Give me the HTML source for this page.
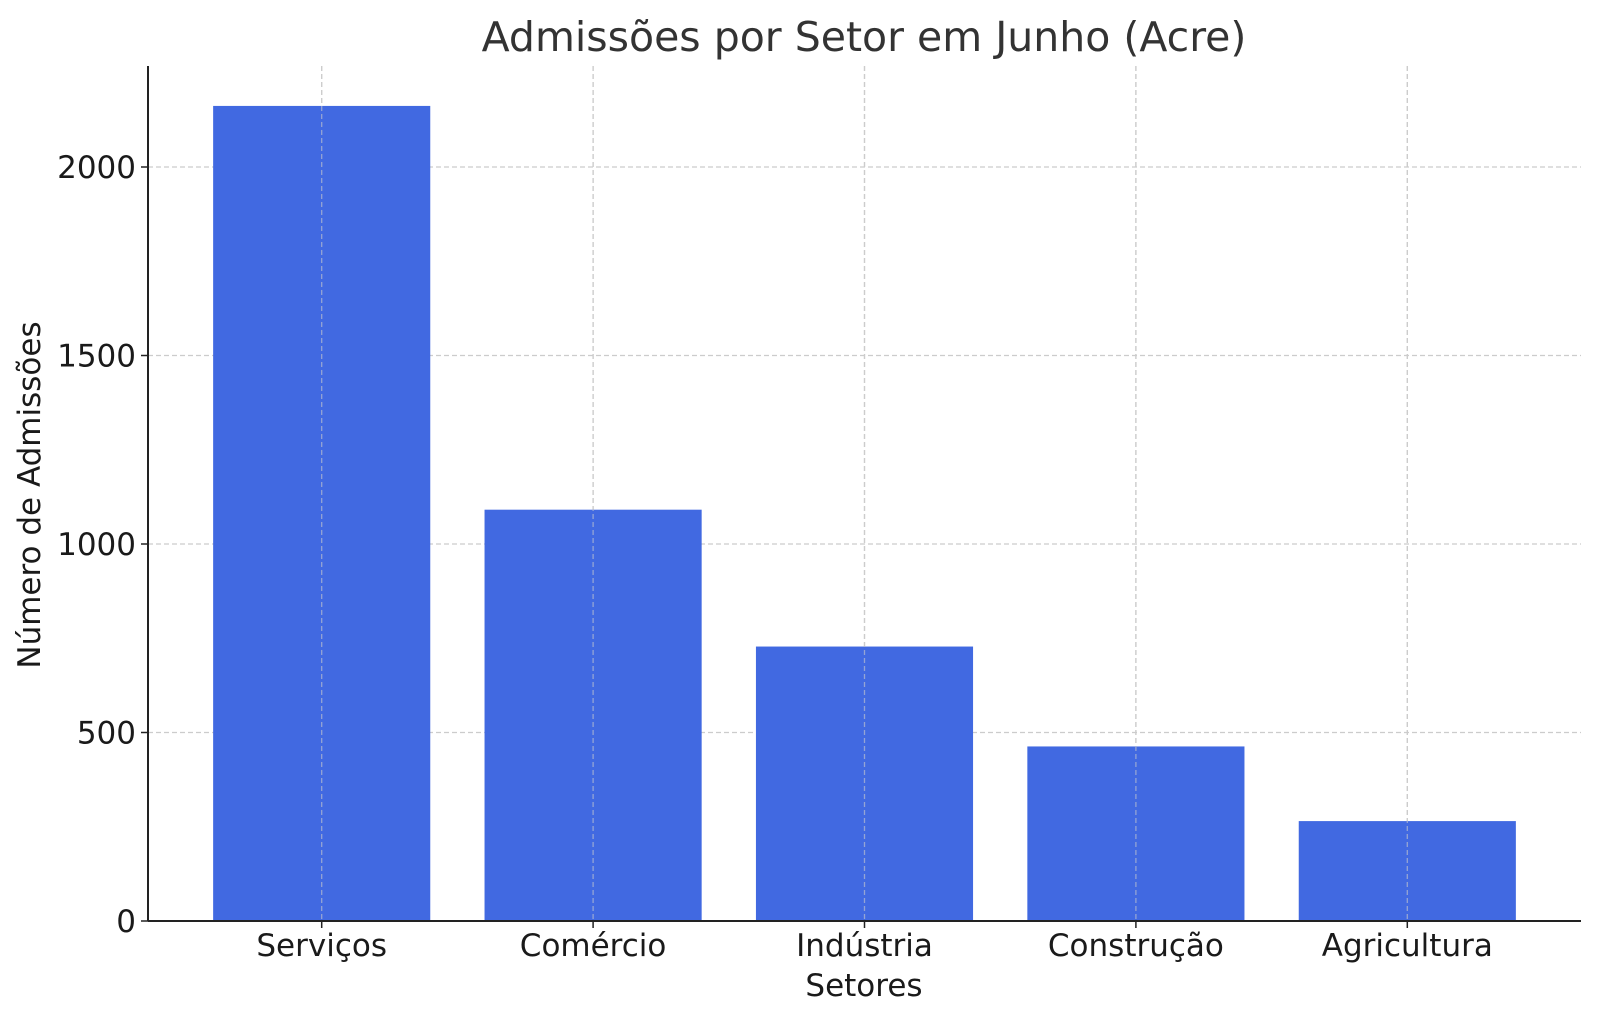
<!DOCTYPE html>
<html><head><meta charset="utf-8"><style>
html,body{margin:0;padding:0;background:#fff}
svg{display:block;font-family:"DejaVu Sans","Liberation Sans",sans-serif}
</style></head><body>
<svg id="chart" width="1599" height="1020" viewBox="0 0 1599 1020">
<text x="864" y="51" text-anchor="middle" font-size="41" fill="#333">Admissões por Setor em Junho (Acre)</text>
<g id="grid"></g><g id="bars"></g><g id="axes"></g>
<text x="864" y="996" text-anchor="middle" font-size="31" fill="#1a1a1a">Setores</text>
<text transform="translate(40,495) rotate(-90)" text-anchor="middle" font-size="31" fill="#1a1a1a">Número de Admissões</text>
</svg>
<script>
const categories=["Serviços","Comércio","Indústria","Construção","Agricultura"];
const values=[2162,1091,728,463,265];
const yTicks=[0,500,1000,1500,2000];
const NS="http://www.w3.org/2000/svg";
const L=148,R=1581,T=66,B=921;
const yScale=v=>B-v*(B-167)/2000;
const step=(R-L)/5.28;
const xScale=i=>L+(i+0.64)*step;
const bw=0.8*step;
function mk(tag,attrs,parent){const e=document.createElementNS(NS,tag);for(const k in attrs)e.setAttribute(k,attrs[k]);parent.appendChild(e);return e;}
const grid=document.getElementById('grid'),bars=document.getElementById('bars'),axes=document.getElementById('axes');
yTicks.forEach(t=>{
  const y=yScale(t);
  if(t>0){const g=mk('line',{x1:L,x2:R,y1:y,y2:y,stroke:'#ccc','stroke-width':1.3,'stroke-dasharray':'5,3'},grid);
  
  }
  const tk=mk('line',{x1:L-7,x2:L,y1:y,y2:y,stroke:'#222','stroke-width':1.5},axes);
  
  
  const tx=mk('text',{x:L-12,y:y+11,'text-anchor':'end','font-size':31,fill:'#1a1a1a'},axes);
  tx.textContent=t;
  
  
});
categories.forEach((c,i)=>{
  const x=xScale(i);
  const g=mk('line',{x1:x,x2:x,y1:T,y2:B,stroke:'#ccc','stroke-width':1.3,'stroke-dasharray':'5,3'},grid);
  
  
  const r=mk('rect',{x:x-bw/2,y:yScale(values[i]),width:bw,height:B-yScale(values[i]),fill:'#4169e1'},bars);
  
  
  const gl=mk('line',{x1:x,x2:x,y1:T,y2:B,stroke:'#ccc','stroke-width':1.3,'stroke-dasharray':'5,3','stroke-opacity':0.6},bars);
  
  
  const tk=mk('line',{x1:x,x2:x,y1:B,y2:B+7,stroke:'#222','stroke-width':1.5},axes);
  
  
  const tx=mk('text',{x:x,y:B+35,'text-anchor':'middle','font-size':31,fill:'#1a1a1a'},axes);
  tx.textContent=c;
  
  
});
const ya=mk('line',{x1:L,x2:L,y1:T,y2:B,stroke:'#222','stroke-width':2},axes);


const xa=mk('line',{x1:L,x2:R,y1:B,y2:B,stroke:'#222','stroke-width':2},axes);


</script>
</body></html>
